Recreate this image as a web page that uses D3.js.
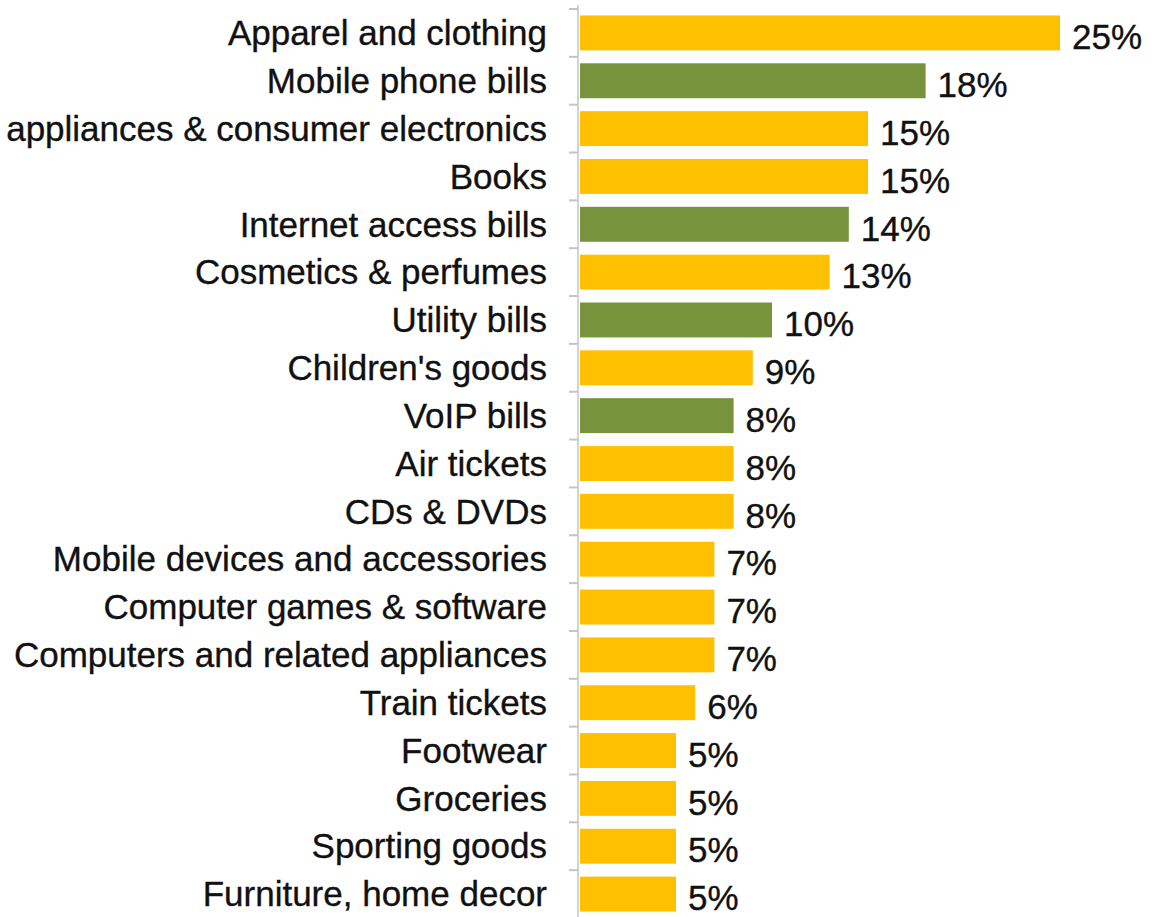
<!DOCTYPE html>
<html>
<head>
<meta charset="utf-8">
<script src="https://cdn.jsdelivr.net/npm/d3@7"></script>
<style>
  html, body { margin: 0; padding: 0; background: #fff; }
  svg { display: block; }
  text { font-family: "Liberation Sans", Arial, Helvetica, sans-serif; fill: #111; stroke: #111; stroke-width: 0.35px; }
</style>
</head>
<body>
<svg id="chart" width="1155" height="917"></svg>
<script>
// Share of online purchases by category (%)
const categories = [
  "Apparel and clothing",
  "Mobile phone bills",
  "appliances & consumer electronics",
  "Books",
  "Internet access bills",
  "Cosmetics & perfumes",
  "Utility bills",
  "Children's goods",
  "VoIP bills",
  "Air tickets",
  "CDs & DVDs",
  "Mobile devices and accessories",
  "Computer games & software",
  "Computers and related appliances",
  "Train tickets",
  "Footwear",
  "Groceries",
  "Sporting goods",
  "Furniture, home decor"
];
const values = [25, 18, 15, 15, 14, 13, 10, 9, 8, 8, 8, 7, 7, 7, 6, 5, 5, 5, 5];
// "bill" = recurring bill payments, "goods" = merchandise
const kinds = ["goods", "bill", "goods", "goods", "bill", "goods", "bill", "goods", "bill",
               "goods", "goods", "goods", "goods", "goods", "goods", "goods", "goods", "goods", "goods"];

const data = categories.map((c, i) => ({ category: c, value: values[i], kind: kinds[i] }));

const colors = { goods: "#FFC000", bill: "#77933C" };

const svg = d3.select("#chart");
const axisX = 578;
const barX0 = 580;

const x = d3.scaleLinear().domain([0, 25]).range([barX0, barX0 + 25 * 19.2]);
const y = d3.scaleBand().domain(categories).range([9, 918]).paddingInner(0.27).paddingOuter(0.135);

// band boundaries for the tick marks
const step = y.step();
const y0 = y.range()[0];
const boundaries = d3.range(categories.length + 1).map(i => y0 + i * step);

// bars
svg.append("g")
  .selectAll("rect")
  .data(data)
  .join("rect")
  .attr("x", barX0)
  .attr("y", d => y(d.category))
  .attr("width", d => x(d.value) - barX0)
  .attr("height", y.bandwidth())
  .attr("fill", d => colors[d.kind]);

// vertical category axis with small outward ticks
const axis = svg.append("g").attr("stroke", "#c4c4c4");
axis.append("line")
  .attr("x1", axisX).attr("x2", axisX)
  .attr("y1", 5).attr("y2", 917)
  .attr("stroke-width", 1.5);
axis.selectAll("line.tick")
  .data(boundaries)
  .join("line")
  .attr("class", "tick")
  .attr("x1", axisX - 9).attr("x2", axisX)
  .attr("y1", d => d).attr("y2", d => d)
  .attr("stroke-width", 2);

// category labels
svg.append("g")
  .selectAll("text")
  .data(data)
  .join("text")
  .attr("x", 547)
  .attr("y", d => y(d.category) + y.bandwidth() / 2)
  .attr("dy", "0.35em")
  .attr("text-anchor", "end")
  .style("font-size", "35px")
  .text(d => d.category);

// value labels
svg.append("g")
  .selectAll("text")
  .data(data)
  .join("text")
  .attr("x", d => x(d.value) + 12)
  .attr("y", d => y(d.category) + y.bandwidth() / 2 + 4)
  .attr("dy", "0.35em")
  .style("font-size", "35px")
  .text(d => d.value + "%");
</script>
</body>
</html>
